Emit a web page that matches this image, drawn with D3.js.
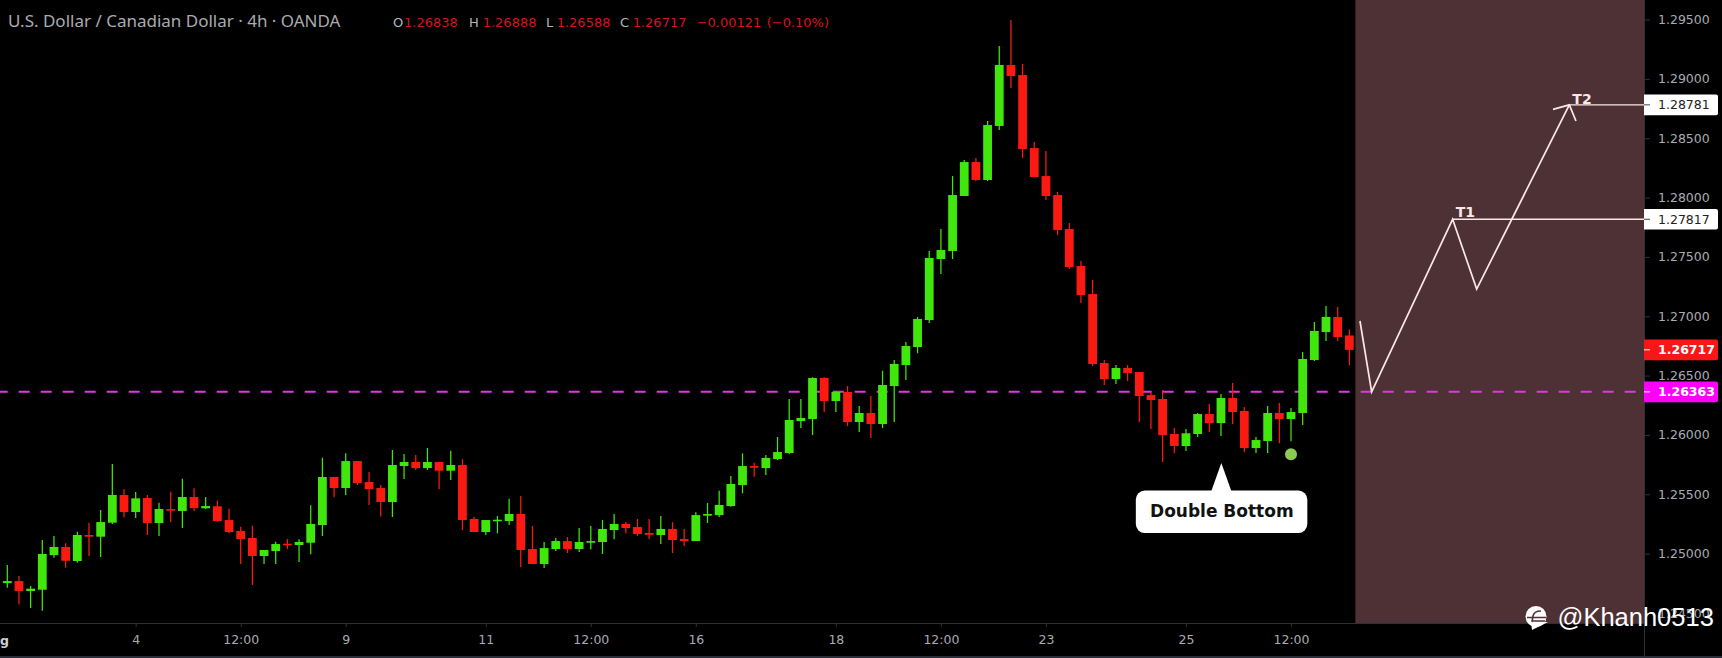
<!DOCTYPE html>
<html>
<head>
<meta charset="utf-8">
<style>
html,body{margin:0;padding:0;background:#000;overflow:hidden}
svg{display:block}
text{font-family:"DejaVu Sans",sans-serif}
</style>
<script src="https://cdn.jsdelivr.net/npm/d3@7"></script>
</head>
<body>
<script>
const opens=[1.24752,1.24769,1.24685,1.24696,1.24988,1.25056,1.24938,1.25157,1.25143,1.25261,
1.25494,1.25351,1.25469,1.25258,1.25376,1.25359,1.25477,1.25382,1.25399,1.25283,
1.25191,1.25132,1.24980,1.25022,1.25084,1.25073,1.25092,1.25241,1.25646,1.25553,
1.25780,1.25603,1.25553,1.25435,1.25738,1.25772,1.25721,1.25772,1.25699,1.25747,
1.25292,1.25182,1.25275,1.25275,1.25334,1.25039,1.24913,1.25039,1.25106,1.25039,
1.25092,1.25098,1.25199,1.25250,1.25224,1.25174,1.25157,1.25208,1.25123,1.25106,
1.25320,1.25325,1.25401,1.25578,1.25738,1.25721,1.25797,1.25848,1.26117,1.26134,
1.26480,1.26286,1.26362,1.26109,1.26185,1.26092,1.26412,1.26589,1.26741,1.26968,
1.27482,1.27550,1.28013,1.28299,1.28148,1.28603,1.29117,1.29032,1.28417,1.28181,
1.28021,1.27735,1.27423,1.27187,1.26606,1.26471,1.26564,1.26530,1.26336,1.26303,
1.26008,1.25907,1.26008,1.26176,1.26100,1.26311,1.26202,1.25890,1.25949,1.26185,
1.26134,1.26185,1.26631,1.26867,1.26994,1.26838];
const closes=[1.24769,1.24685,1.24705,1.24997,1.25056,1.24940,1.25157,1.25143,1.25266,1.25494,
1.25351,1.25466,1.25258,1.25376,1.25362,1.25477,1.25384,1.25401,1.25275,1.25182,
1.25123,1.24980,1.25031,1.25081,1.25073,1.25098,1.25250,1.25646,1.25553,1.25780,
1.25595,1.25544,1.25435,1.25747,1.25772,1.25721,1.25772,1.25699,1.25747,1.25283,
1.25182,1.25283,1.25286,1.25334,1.25031,1.24913,1.25047,1.25106,1.25039,1.25098,
1.25106,1.25208,1.25250,1.25216,1.25165,1.25159,1.25208,1.25115,1.25106,1.25325,
1.25334,1.25410,1.25587,1.25738,1.25724,1.25806,1.25856,1.26126,1.26143,1.26480,
1.26286,1.26362,1.26109,1.26185,1.26092,1.26421,1.26598,1.26749,1.26977,1.27491,
1.27558,1.28021,1.28299,1.28148,1.28611,1.29117,1.29024,1.28409,1.28173,1.28013,
1.27727,1.27415,1.27179,1.26598,1.26471,1.26564,1.26522,1.26328,1.26294,1.25999,
1.25907,1.26014,1.26176,1.26100,1.26311,1.26193,1.25890,1.25957,1.26185,1.26134,
1.26193,1.26640,1.26876,1.26994,1.26825,1.26717];
const highs=[1.24904,1.24811,1.24727,1.25115,1.25149,1.25087,1.25185,1.25261,1.25368,1.25755,
1.25542,1.25519,1.25494,1.25429,1.25522,1.25631,1.25550,1.25477,1.25446,1.25378,
1.25227,1.25235,1.25031,1.25101,1.25123,1.25121,1.25407,1.25808,1.25646,1.25845,
1.25780,1.25688,1.25578,1.25873,1.25839,1.25831,1.25890,1.25772,1.25867,1.25795,
1.25311,1.25283,1.25317,1.25463,1.25486,1.25233,1.25098,1.25132,1.25140,1.25216,
1.25233,1.25283,1.25334,1.25266,1.25292,1.25292,1.25317,1.25266,1.25208,1.25348,
1.25427,1.25530,1.25654,1.25845,1.25766,1.25831,1.25983,1.26303,1.26303,1.26486,
1.26486,1.26370,1.26412,1.26244,1.26328,1.26541,1.26631,1.26783,1.26994,1.27550,
1.27735,1.28181,1.28316,1.28333,1.28645,1.29277,1.29496,1.29125,1.28468,1.28392,
1.28047,1.27785,1.27465,1.27305,1.26631,1.26589,1.26589,1.26530,1.26362,1.26378,
1.26058,1.26050,1.26185,1.26261,1.26345,1.26438,1.26235,1.25983,1.26244,1.26269,
1.26227,1.26699,1.26951,1.27086,1.27078,1.26888];
const lows=[1.24713,1.24573,1.24542,1.24519,1.24966,1.24881,1.24924,1.24980,1.24972,1.25250,
1.25306,1.25300,1.25157,1.25149,1.25266,1.25216,1.25359,1.25376,1.25269,1.25171,
1.24913,1.24736,1.24913,1.24913,1.25039,1.24929,1.24994,1.25149,1.25477,1.25494,
1.25578,1.25410,1.25314,1.25309,1.25629,1.25705,1.25705,1.25542,1.25620,1.25199,
1.25182,1.25157,1.25171,1.25241,1.24887,1.24913,1.24879,1.25022,1.25005,1.25014,
1.25036,1.24997,1.25121,1.25171,1.25149,1.25123,1.25081,1.25005,1.25064,1.25106,
1.25258,1.25309,1.25395,1.25508,1.25648,1.25662,1.25789,1.25839,1.26058,1.25999,
1.26193,1.26193,1.26075,1.26025,1.25974,1.26058,1.26109,1.26463,1.26688,1.26943,
1.27356,1.27482,1.28013,1.28139,1.28139,1.28569,1.28923,1.28333,1.28173,1.27979,
1.27684,1.27398,1.27112,1.26581,1.26421,1.26429,1.26454,1.26109,1.26050,1.25772,
1.25845,1.25865,1.25983,1.26025,1.25991,1.26092,1.25854,1.25848,1.25848,1.25930,
1.25946,1.26084,1.26623,1.26791,1.26791,1.26588];

const priceTicks=[1.295,1.29,1.285,1.28,1.275,1.27,1.265,1.26,1.255,1.25,1.245];
const timeTickBars=[11,20,29,41,50,59,71,80,89,101,110];
const timeTickLabels=["4","12:00","9","11","12:00","16","18","12:00","23","25","12:00"];

const supportPrice=1.26363;
const lastClose=1.26717;
const target1=1.27817;
const target2=1.28781;

// projected path, in bar positions and prices
const pathBars=[115.91,116.91,123.85,125.91,133.85];
const pathPrices=[1.26960,1.26363,1.27817,1.27229,1.28781];
const arrowBars=[132.45,133.85,134.42];
const arrowPrices=[1.28743,1.28781,1.28645];

const zoneStartBar=115.57;
const dotBar=110;
const dotPrice=1.25837;
const calloutBar=104.03;
const calloutTipPrice=1.25763;

const W=1722,H=658,plotR=1644,plotB=623;
const x=d3.scaleLinear().domain([0,115]).range([7.3,1349.35]);
const y=d3.scaleLinear().domain([1.295,1.245]).range([19.5,613]);

const GREEN="#41e60d",RED="#fb1a12",AXIS="#a9abb2",LINE="#2e3038",PATH="#fbe8e4";

const svg=d3.select("body").append("svg").attr("width",W).attr("height",H);
svg.append("rect").attr("width",W).attr("height",H).attr("fill","#000");
svg.append("clipPath").attr("id","plot").append("rect").attr("width",plotR).attr("height",plotB);

const plot=svg.append("g").attr("clip-path","url(#plot)");

// forecast zone
plot.append("rect").attr("x",x(zoneStartBar)).attr("y",0)
  .attr("width",plotR-x(zoneStartBar)).attr("height",plotB).attr("fill","#4e3134");
plot.append("line").attr("x1",x(zoneStartBar)).attr("x2",x(zoneStartBar)).attr("y1",0).attr("y2",plotB)
  .attr("stroke","#5e2f35").attr("stroke-width",1.2);

// support line
plot.append("line").attr("x1",0).attr("x2",plotR).attr("y1",y(supportPrice)).attr("y2",y(supportPrice))
  .attr("stroke","#dd3ade").attr("stroke-width",2)
  .attr("stroke-dasharray","11 11").attr("stroke-dashoffset",3.3);

// candles
const idx=d3.range(opens.length);
const colour=i=>closes[i]>=opens[i]?GREEN:RED;
plot.append("g").selectAll("line").data(idx).join("line")
  .attr("x1",x).attr("x2",x)
  .attr("y1",i=>y(highs[i])).attr("y2",i=>y(lows[i]))
  .attr("stroke",colour).attr("stroke-width",1.25);
plot.append("g").selectAll("rect").data(idx).join("rect")
  .attr("x",i=>x(i)-4.4).attr("width",8.8)
  .attr("y",i=>Math.min(y(opens[i]),y(closes[i])))
  .attr("height",i=>Math.max(1.6,Math.abs(y(opens[i])-y(closes[i]))))
  .attr("fill",colour);

// projected path
const ln=d3.line().x(d=>x(d[0])).y(d=>y(d[1]));
plot.append("path").attr("d",ln(d3.zip(pathBars,pathPrices))).attr("fill","none")
  .attr("stroke",PATH).attr("stroke-width",1.7);
plot.append("path").attr("d",ln(d3.zip(arrowBars,arrowPrices))).attr("fill","none")
  .attr("stroke",PATH).attr("stroke-width",1.7);
[[pathBars[2],target1],[pathBars[4],target2]].forEach(([b,p])=>{
  plot.append("line").attr("x1",x(b)).attr("x2",plotR).attr("y1",y(p)).attr("y2",y(p))
    .attr("stroke",PATH).attr("stroke-width",1.4);
});
plot.append("text").text("T1").attr("x",x(pathBars[2])+3).attr("y",y(target1)-2.6)
  .attr("fill",PATH).attr("font-weight","bold").attr("font-size",14);
plot.append("text").text("T2").attr("x",x(pathBars[4])+3).attr("y",y(target2)-1.2)
  .attr("fill",PATH).attr("font-weight","bold").attr("font-size",14);

// marker dot
plot.append("circle").attr("cx",x(dotBar)).attr("cy",y(dotPrice)).attr("r",6).attr("fill","#8ccb52");

// callout
const cx=x(calloutBar),tipY=y(calloutTipPrice);
const cg=plot.append("g");
cg.append("path").attr("d",`M${cx-10},${tipY+28}L${cx},${tipY}L${cx+10},${tipY+28}Z`).attr("fill","#fff");
cg.append("rect").attr("x",cx-85.5).attr("y",tipY+27.5).attr("width",171.5).attr("height",42.5).attr("rx",9).attr("fill","#fff");
cg.append("text").text("Double Bottom").attr("x",cx+0.5).attr("y",tipY+53.5).attr("text-anchor","middle")
  .attr("fill","#111").attr("font-weight","bold").attr("font-size",17);

// frame
svg.append("line").attr("x1",0).attr("x2",plotR).attr("y1",plotB+.5).attr("y2",plotB+.5).attr("stroke",LINE);
svg.append("line").attr("x1",plotR+.5).attr("x2",plotR+.5).attr("y1",0).attr("y2",656).attr("stroke",LINE);
svg.append("rect").attr("x",0).attr("y",656).attr("width",W).attr("height",2).attr("fill","#2a2e39");

// price axis
const yAxis=svg.append("g").attr("transform",`translate(${plotR},0)`)
  .call(d3.axisRight(y).tickValues(priceTicks).tickSize(6).tickPadding(8).tickFormat(d3.format(".5f")));
yAxis.select(".domain").remove();
yAxis.selectAll("line").attr("stroke",LINE);
yAxis.selectAll("text").attr("fill",AXIS).attr("font-size",12.5).attr("font-family","DejaVu Sans");

// price labels
const tags=[[target2,"#fff","#222"],[target1,"#fff","#222"],[lastClose,"#f91616","#fff"],[supportPrice,"#ff00ff","#fff"]];
const tagG=svg.append("g").selectAll("g").data(tags).join("g")
  .attr("transform",d=>`translate(${plotR},${y(d[0])})`);
tagG.append("path").attr("d","M0,-10.3H72a2,2 0 0 1 2,2V8.3a2,2 0 0 1 -2,2H0Z").attr("fill",d=>d[1]);
tagG.append("line").attr("x1",0).attr("x2",6).attr("stroke",d=>d[2]==="#fff"?"#fff":"#444");
tagG.append("text").text(d=>d3.format(".5f")(d[0])).attr("x",14).attr("y",4.6)
  .attr("fill",d=>d[2]).attr("font-size",12.5).attr("font-weight",d=>d[2]==="#fff"?"bold":"normal");

// time axis
const xAxis=svg.append("g").attr("transform",`translate(0,${plotB})`)
  .call(d3.axisBottom(x).tickValues(timeTickBars).tickSize(4).tickPadding(8)
    .tickFormat((d,i)=>timeTickLabels[i]));
xAxis.select(".domain").remove();
xAxis.selectAll("line").attr("stroke",LINE);
xAxis.selectAll("text").attr("fill",AXIS).attr("font-size",12.5).attr("font-family","DejaVu Sans");
svg.append("text").text("g").attr("x",0).attr("y",645).attr("fill","#d0d0d0").attr("font-weight","bold").attr("font-size",12.5);

// header
svg.append("text").text("U.S. Dollar / Canadian Dollar · 4h · OANDA").attr("x",8).attr("y",26.5)
  .attr("fill","#a9abb2").attr("font-size",17).style("font-family","'Noto Sans'");
const ohlc=[["O",393,"1.26838",404],["H",469,"1.26888",482.7],["L",546,"1.26588",556.7],["C",620,"1.26717",632.7]];
ohlc.forEach(([k,kx,v,vx])=>{
  svg.append("text").text(k).attr("x",kx).attr("y",27).attr("fill","#b4b6bc").attr("font-size",13);
  svg.append("text").text(v).attr("x",vx).attr("y",27).attr("fill","#d4161c").attr("font-size",13);
});
svg.append("text").text("−0.00121").attr("x",696.7).attr("y",27).attr("fill","#d4161c").attr("font-size",13);
svg.append("text").text("(−0.10%)").attr("x",766.7).attr("y",27).attr("fill","#d4161c").attr("font-size",13);

// watermark
const wm=svg.append("g");
wm.append("circle").attr("cx",1536).attr("cy",616.5).attr("r",10.5).attr("fill","#fff");
wm.append("path").attr("d","M1533,624L1550,624L1534,632Z").attr("fill","#fff").attr("transform","translate(-2,-2)");
wm.append("path").attr("d","M1532,622L1533,616Q1534,611 1541,611M1527,617.5H1546M1532,621H1545").attr("fill","none").attr("stroke","#4e3134").attr("stroke-width",1.6);
wm.append("text").text("@Khanh0513").attr("x",1557.5).attr("y",626).attr("fill","#fff")
  .attr("font-size",25.5).style("font-family","'Liberation Sans'");
</script>
</body>
</html>
